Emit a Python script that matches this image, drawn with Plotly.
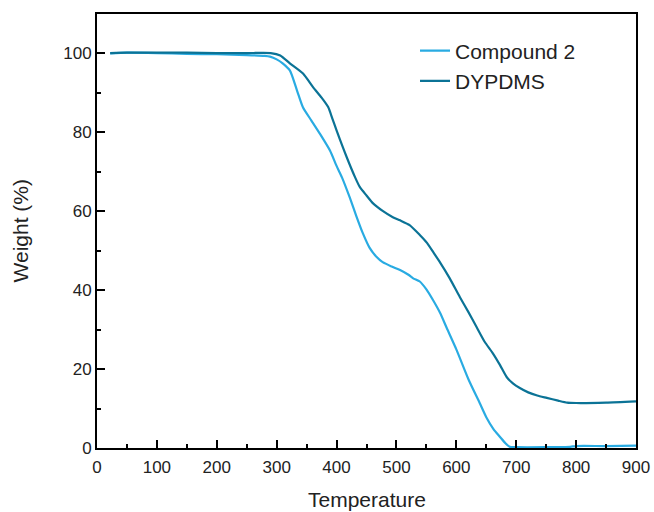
import plotly.graph_objects as go

# Compound 2
t_c2 = [22, 50, 100, 150, 200, 250, 280, 289, 300, 310, 322, 334, 344, 358, 372, 389, 400, 409, 422,
        433, 444, 455, 467, 477, 492, 506, 520, 528, 539, 550, 561, 573, 584, 600, 620, 639, 650, 662,
        673, 682, 689, 700, 750, 790, 800, 850, 900]
w_c2 = [100, 100.2, 100.1, 99.9, 99.8, 99.6, 99.4, 99.2, 98.5, 97.5, 95.7, 90.6, 86.3, 83, 79.7, 75.4,
        71.5, 68.6, 63.5, 58.8, 54.4, 50.8, 48.4, 47.1, 46, 45.1, 43.9, 43, 42.2, 40.2, 37.5, 34.2, 30.4,
        25, 17.5, 11.4, 7.8, 4.8, 2.8, 1.2, 0.3, 0.2, 0.2, 0.3, 0.5, 0.5, 0.6]

# DYPDMS
t_dy = [22, 50, 100, 150, 200, 250, 290, 306, 322, 344, 361, 375, 386, 393, 400, 417, 431, 439, 450,
        461, 477, 494, 506, 522, 539, 551, 562, 573, 589, 606, 620, 634, 647, 661, 673, 684, 695, 706,
        720, 735, 751, 770, 785, 800, 850, 900]
w_dy = [100.1, 100.2, 100.2, 100.2, 100.1, 100.1, 100.1, 99.5, 97.5, 94.9, 91.4, 88.8, 86.4, 83.5, 80.5,
        73.7, 68.6, 66.1, 64, 62, 60.1, 58.5, 57.7, 56.5, 54, 52, 49.5, 47, 43, 38.2, 34.5, 30.6, 27, 24,
        21, 18, 16.3, 15.2, 14.1, 13.3, 12.7, 12, 11.5, 11.4, 11.5, 11.8]

x_ticks = [0, 100, 200, 300, 400, 500, 600, 700, 800, 900]
y_ticks = [0, 20, 40, 60, 80, 100]

FONT = "Liberation Sans, Arial"

fig = go.Figure()
fig.add_trace(go.Scatter(x=t_c2, y=w_c2, mode="lines", name="Compound 2",
                         line=dict(color="#29ABE2", width=2.2, shape="spline", smoothing=0.6)))
fig.add_trace(go.Scatter(x=t_dy, y=w_dy, mode="lines", name="DYPDMS",
                         line=dict(color="#0B7396", width=2.2, shape="spline", smoothing=0.6)))

axis_common = dict(showline=True, linecolor="black", linewidth=2, mirror=True,
                   ticks="inside", ticklen=8, tickwidth=1.5, tickcolor="black",
                   showgrid=False, zeroline=False, automargin=False,
                   tickfont=dict(family=FONT, size=17, color="#222"))

fig.update_xaxes(range=[0, 900], tickvals=x_ticks, ticklabelstandoff=3,
                 minor=dict(ticks="inside", ticklen=4, tickwidth=1.5, tickcolor="black", dtick=50),
                 **axis_common)
fig.update_yaxes(range=[0, 110], tickvals=y_ticks,
                 minor=dict(ticks="inside", ticklen=4, tickwidth=1.5, tickcolor="black", dtick=10),
                 **axis_common)

fig.add_annotation(text="Temperature", xref="paper", yref="paper", x=0.5, y=-0.118,
                   xanchor="center", yanchor="middle", showarrow=False,
                   font=dict(family=FONT, size=21, color="#222"))
fig.add_annotation(text="Weight (%)", xref="paper", yref="paper", x=-0.142, y=0.5,
                   xanchor="center", yanchor="middle", showarrow=False, textangle=-90,
                   font=dict(family=FONT, size=21, color="#222"))

fig.update_layout(
    width=654, height=512,
    margin=dict(l=97, r=18, t=14, b=64),
    plot_bgcolor="white", paper_bgcolor="white",
    legend=dict(x=0.590, y=0.962, xanchor="left", yanchor="top",
                font=dict(family=FONT, size=21, color="#222"),
                bgcolor="rgba(0,0,0,0)", tracegroupgap=0),
)

fig.write_html("out.html")
